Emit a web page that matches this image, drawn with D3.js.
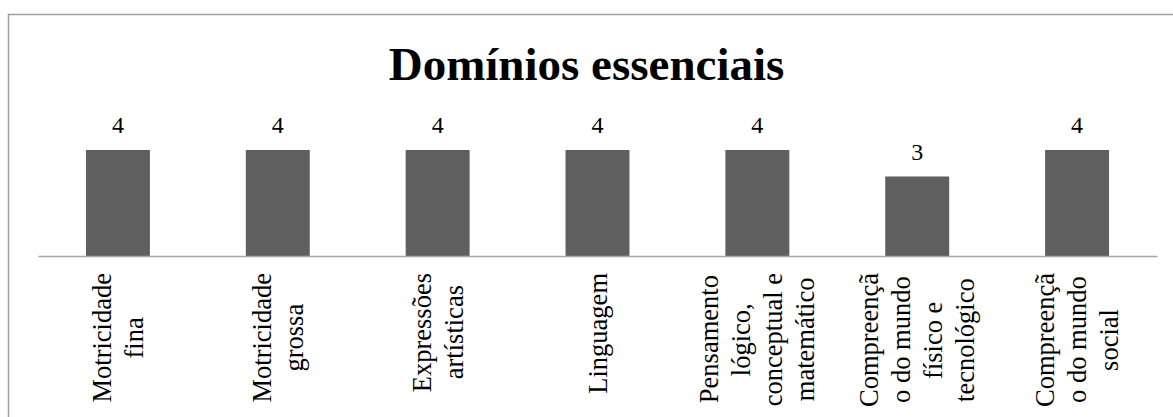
<!DOCTYPE html>
<html>
<head>
<meta charset="utf-8">
<script src="https://cdn.jsdelivr.net/npm/d3@7"></script>
<style>
  body { margin: 0; background: #fff; }
  #chart-area { position: relative; width: 1173px; height: 417px; overflow: hidden; }
  .cat-label {
    position: absolute;
    writing-mode: vertical-rl;
    transform: translateX(-50%) rotate(180deg);
    text-align: center;
    white-space: nowrap;
    font-family: "Liberation Serif", "Times New Roman", serif;
    font-size: 26.5px;
    line-height: 32px;
    color: #000;
  }
</style>
</head>
<body>
<div id="chart-area"></div>
<script>
// data
var categories = [
  ["Motricidade", "fina"],
  ["Motricidade", "grossa"],
  ["Expressões", "artísticas"],
  ["Linguagem"],
  ["Pensamento", "lógico,", "conceptual e", "matemático"],
  ["Compreençã", "o do mundo", "físico e", "tecnológico"],
  ["Compreençã", "o do mundo", "social"]
];
var values = [4, 4, 4, 4, 4, 3, 4];
var title = "Domínios essenciais";

var width = 1173, height = 417;
var plot = {left: 38, right: 1157, base: 256, top4: 150};
var serif = "Liberation Serif";

var svg = d3.select("#chart-area")
  .append("svg")
  .attr("width", width)
  .attr("height", height)
  .style("position", "absolute")
  .style("left", 0)
  .style("top", 0);

// chart border
svg.append("rect")
  .attr("x", 8.5)
  .attr("y", 14.5)
  .attr("width", 1180)
  .attr("height", 420)
  .attr("fill", "none")
  .attr("stroke", "#a0a0a0")
  .attr("stroke-width", 1.5);

// title
svg.append("text")
  .attr("x", width / 2)
  .attr("y", 80)
  .attr("text-anchor", "middle")
  .attr("font-family", serif)
  .attr("font-size", 47)
  .attr("font-weight", "bold")
  .text(title);

// scales
var xScale = d3.scaleBand()
  .domain(d3.range(values.length))
  .range([plot.left, plot.right])
  .paddingInner(0.6)
  .paddingOuter(0.3);

var yScale = d3.scaleLinear()
  .domain([0, 4])
  .range([plot.base, plot.top4]);

// bars
svg.selectAll("rect.bar")
  .data(values)
  .enter()
  .append("rect")
  .attr("class", "bar")
  .attr("x", function(d, i) { return xScale(i); })
  .attr("y", function(d) { return yScale(d); })
  .attr("width", xScale.bandwidth())
  .attr("height", function(d) { return yScale(0) - yScale(d); })
  .attr("fill", "#5f5f5f");

// value labels
svg.selectAll("text.value")
  .data(values)
  .enter()
  .append("text")
  .attr("class", "value")
  .attr("x", function(d, i) { return xScale(i) + xScale.bandwidth() / 2; })
  .attr("y", function(d) { return yScale(d) - 17; })
  .attr("text-anchor", "middle")
  .attr("font-family", serif)
  .attr("font-size", 24)
  .text(function(d) { return d; });

// category axis line
var xAxis = d3.axisBottom(xScale).tickSize(0).tickFormat("");
var axisG = svg.append("g")
  .attr("transform", "translate(0," + plot.base + ")")
  .call(xAxis);
axisG.select(".domain")
  .attr("stroke", "#a6a6a6")
  .attr("stroke-width", 1.5);

// rotated multi-line category labels (html, so the browser centres the lines)
var labelTop = 273;
d3.select("#chart-area").selectAll("div.cat-label")
  .data(categories)
  .enter()
  .append("div")
  .attr("class", "cat-label")
  .style("left", function(d, i) { return (xScale(i) + xScale.bandwidth() / 2) + "px"; })
  .style("top", labelTop + "px")
  .html(function(d) { return d.join("<br>"); });
</script>
</body>
</html>
